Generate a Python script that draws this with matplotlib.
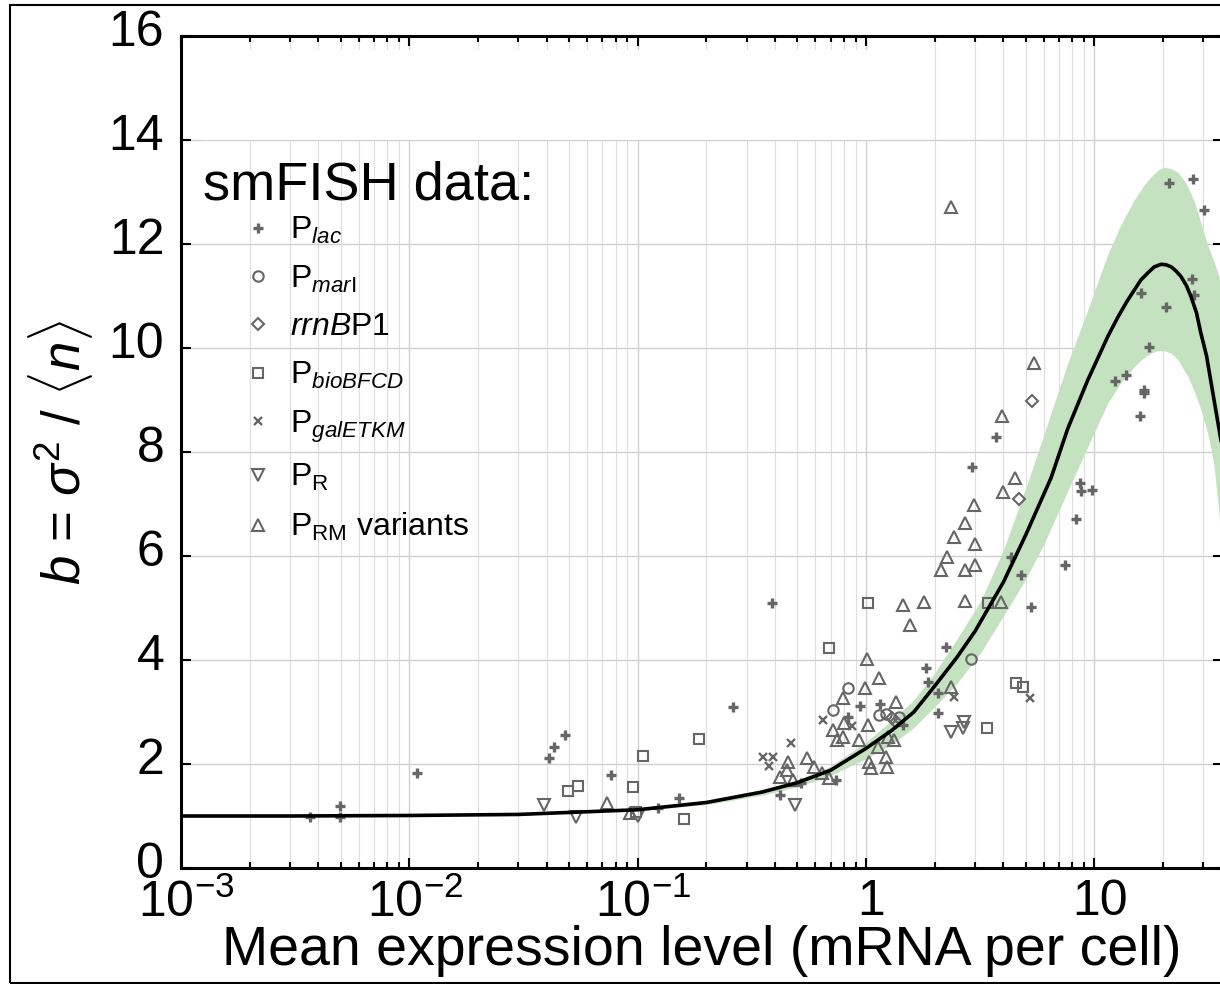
import matplotlib.pyplot as plt
from matplotlib.patches import Rectangle
from matplotlib.ticker import LogLocator, NullFormatter
from matplotlib.transforms import ScaledTranslation

plt.rcParams['font.family'] = ['Liberation Sans', 'DejaVu Sans']
plt.rcParams['mathtext.fontset'] = 'custom'
plt.rcParams['mathtext.rm'] = 'Liberation Sans'
plt.rcParams['mathtext.it'] = 'Liberation Sans:italic'
plt.rcParams['mathtext.bf'] = 'Liberation Sans:bold'

# smFISH data (mean mRNA per cell, Fano factor b)
lac_x = [0.00367, 0.00497, 0.00497, 0.0108, 0.0409, 0.043, 0.048, 0.0764, 0.123, 0.152,
         0.261, 0.387, 0.42, 0.52, 0.74, 0.83, 0.94, 1.15, 1.45, 1.83, 1.87, 2.07, 2.07,
         2.24, 2.91, 3.71, 4.32, 4.77, 5.28, 7.44, 8.32, 8.65, 8.75, 9.77, 12.3, 13.8,
         15.9, 16.0, 16.5, 16.5, 17.4, 20.6, 21.2, 26.8, 27.1, 27.3, 30.2]
lac_y = [0.98, 1.19, 0.98, 1.83, 2.12, 2.33, 2.56, 1.79, 1.15, 1.35,
         3.10, 5.10, 1.40, 1.63, 1.69, 2.90, 3.12, 3.15, 2.75, 3.85, 3.58, 2.98, 3.37,
         4.25, 7.71, 8.29, 5.98, 5.63, 5.02, 5.83, 6.71, 7.40, 7.25, 7.27, 9.37, 9.48,
         8.69, 11.06, 9.19, 9.13, 10.02, 10.79, 13.17, 11.33, 13.25, 11.02, 12.65]

mar_x = [0.72, 0.83, 1.14, 1.22, 1.40, 2.88]
mar_y = [3.04, 3.46, 2.94, 2.96, 2.90, 4.02]

rrn_x = [1.30, 1.35, 4.68, 5.33]
rrn_y = [2.88, 2.80, 7.10, 8.98]

bio_x = [0.0497, 0.0548, 0.0953, 0.098, 0.105, 0.159, 0.186, 0.689, 1.02, 3.39, 3.42, 4.54, 4.87]
bio_y = [1.48, 1.58, 1.56, 1.07, 2.15, 0.94, 2.48, 4.23, 5.10, 2.69, 5.10, 3.56, 3.48]

gal_x = [0.354, 0.392, 0.376, 0.47, 0.65, 0.87, 2.43, 5.23]
gal_y = [2.13, 2.13, 1.96, 2.40, 2.85, 2.73, 3.29, 3.27]

pr_x = [0.039, 0.0537, 0.10, 0.49, 2.36, 2.66, 2.69]
pr_y = [1.21, 0.98, 1.00, 1.21, 2.62, 2.69, 2.81]

prm_x = [0.0734, 0.093, 0.455, 0.55, 0.45, 0.42, 0.48, 0.59, 0.64, 0.69, 0.79, 0.80, 0.72,
         0.79, 0.75, 0.93, 0.99, 1.01, 1.02, 1.03, 1.05, 1.13, 1.14, 1.22, 1.24, 1.25, 1.33,
         1.35, 1.45, 1.56, 1.80, 2.13, 2.26, 2.36, 2.36, 2.43, 2.71, 2.72, 2.72, 2.97, 3.0,
         3.0, 3.90, 3.94, 3.98, 4.50, 5.44]
prm_y = [1.25, 1.05, 2.04, 2.12, 1.88, 1.75, 1.69, 1.94, 1.83, 1.73, 3.27, 2.79, 2.65,
         2.52, 2.46, 2.46, 3.46, 4.02, 2.75, 2.04, 1.92, 2.33, 3.65, 2.13, 1.94, 2.52, 2.46,
         3.19, 5.06, 4.67, 5.12, 5.73, 5.98, 3.48, 12.71, 6.37, 5.13, 6.63, 5.73, 6.98, 6.23,
         5.83, 5.12, 8.69, 7.23, 7.50, 9.71]

# model curve and its band
fit_x = [0.001, 0.003, 0.01, 0.03, 0.1, 0.2, 0.35, 0.5, 0.7, 1.0, 1.3, 1.62, 2.0, 2.5, 3.0,
         4.0, 5.0, 6.46, 7.65, 9.35, 11.45, 12.7, 14.0, 16.0, 17.2, 18.3, 19.6, 20.6, 21.7,
         22.8, 24.0, 25.3, 26.5, 28.0, 29.3, 31.0, 32.5, 34.2, 36.6]
fit_y = [1.00, 1.00, 1.01, 1.03, 1.12, 1.26, 1.46, 1.64, 1.88, 2.30, 2.65, 3.00, 3.50, 4.05, 4.55,
         5.50, 6.40, 7.50, 8.45, 9.38, 10.22, 10.60, 10.92, 11.31, 11.45, 11.56, 11.61, 11.60, 11.56,
         11.48, 11.37, 11.20, 10.99, 10.68, 10.28, 9.85, 9.32, 8.75, 8.00]

band_x = [0.1, 0.2, 0.35, 0.5, 0.7, 1.0, 1.3, 1.62, 2.0, 2.5, 3.19, 4.0, 5.0, 6.04, 7.65, 9.35,
          11.45, 13.0, 14.95, 16.3, 17.7, 19.0, 20.2, 21.7, 23.2, 24.5, 25.7, 27.5, 29.3, 31.0,
          32.5, 33.5, 35.0, 36.6]
band_lo = [1.10, 1.22, 1.40, 1.56, 1.78, 2.10, 2.38, 2.70, 3.10, 3.55, 4.15, 4.85, 5.55, 6.25, 7.25, 8.10,
           8.94, 9.32, 9.64, 9.80, 9.90, 9.95, 9.95, 9.90, 9.78, 9.60, 9.45, 9.15, 8.81, 8.45,
           8.05, 7.70, 6.90, 5.80]
band_hi = [1.14, 1.29, 1.51, 1.70, 1.96, 2.42, 2.85, 3.23, 3.75, 4.40, 5.15, 6.12, 7.30, 8.36, 9.71, 10.73,
           11.80, 12.35, 12.85, 13.10, 13.29, 13.42, 13.48, 13.45, 13.38, 13.25, 13.10, 12.80, 12.40, 12.05,
           11.80, 11.65, 11.40, 11.10]

xticks = [1e-3, 1e-2, 1e-1, 1, 10]
xticklabels = ['$10^{-3}$', '$10^{-2}$', '$10^{-1}$', '1', '10']
yticks = list(range(0, 17, 2))

gray = '#666666'

fig = plt.figure(figsize=(12.2, 9.84), dpi=100)
ax = fig.add_axes([181 / 1220, 1 - 868 / 984, 1042 / 1220, 832 / 984])

ax.fill_between(band_x, band_lo, band_hi, color='#c4e2c0', lw=0, zorder=1.7)

kw = dict(ls='none', mfc='none', mec=gray, zorder=3)
ax.plot(lac_x, lac_y, marker='+', ms=7, mew=2.4, label=r'P$_{lac}$', **kw)
ax.plot(mar_x, mar_y, marker='o', ms=7.5, mew=1.5, label=r'P$_{mar\mathrm{I}}$', **kw)
ax.plot(rrn_x, rrn_y, marker='D', ms=6, mew=1.5, label=r'$rrnB$P1', **kw)
ax.plot(bio_x, bio_y, marker='s', ms=7, mew=1.5, label=r'P$_{bioBFCD}$', **kw)
ax.plot(gal_x, gal_y, marker='x', ms=6, mew=1.7, label=r'P$_{galETKM}$', **kw)
ax.plot(pr_x, pr_y, marker='v', ms=8.5, mew=1.5, label=r'P$_\mathrm{R}$', **kw)
ax.plot(prm_x, prm_y, marker='^', ms=8.5, mew=1.5, label=r'P$_\mathrm{RM}$ variants', **kw)

ax.plot(fit_x, fit_y, color='black', lw=2.6, zorder=4)

ax.set_xscale('log')
ax.set_xlim(1e-3, 36.6)
ax.set_ylim(0, 16)
ax.set_xticks(xticks)
ax.set_xticklabels(xticklabels)
ax.xaxis.set_minor_locator(LogLocator(base=10, subs=range(2, 10)))
ax.xaxis.set_minor_formatter(NullFormatter())
ax.set_yticks(yticks)

ax.grid(which='major', color='#d0d0d0', lw=1.0)
ax.grid(which='minor', axis='x', color='#dedede', lw=0.8)
ax.tick_params(which='both', direction='in', top=True, right=True, width=1.5, labelsize=36)
ax.tick_params(which='major', length=7)
ax.tick_params(which='minor', length=4)
ax.tick_params(axis='x', pad=8)
ax.tick_params(axis='y', pad=12)
for s in ax.spines.values():
    s.set_linewidth(2.2)

# nudge tick labels a little, as in the original
dx = ScaledTranslation(4 / 72, 0, fig.dpi_scale_trans)
for lbl in ax.get_xticklabels():
    lbl.set_transform(lbl.get_transform() + dx)
dy = ScaledTranslation(0, 6 / 72, fig.dpi_scale_trans)
for lbl in ax.get_yticklabels():
    lbl.set_transform(lbl.get_transform() + dy)

ax.set_xlabel('Mean expression level (mRNA per cell)', fontsize=40)
ax.xaxis.set_label_coords(0.5, -0.068)
ax.set_ylabel(r'$b$ = $\sigma^2$ / $\langle n\rangle$', fontsize=38)
ax.yaxis.set_label_coords(-0.083, 0.5)

# blank box over the top-left
ax.add_patch(Rectangle((0.0202, 0.875), 0.651, 0.108, transform=ax.transAxes,
                       fc='white', ec='none', zorder=1.8))

ax.text(0.021, 0.803, 'smFISH data:', transform=ax.transAxes, fontsize=39, va='baseline', zorder=5)
leg = ax.legend(loc='upper left', bbox_to_anchor=(0.0585, 0.785), frameon=False, fontsize=23,
                labelspacing=0.55, handlelength=1.0, handletextpad=0.5, borderpad=0,
                borderaxespad=0)

fig.patches.append(Rectangle((10 / 1220, 1 / 984), 1.1, 978 / 984, transform=fig.transFigure,
                             fill=False, ec='black', lw=1.5))

fig.savefig('out.png', dpi=100)
